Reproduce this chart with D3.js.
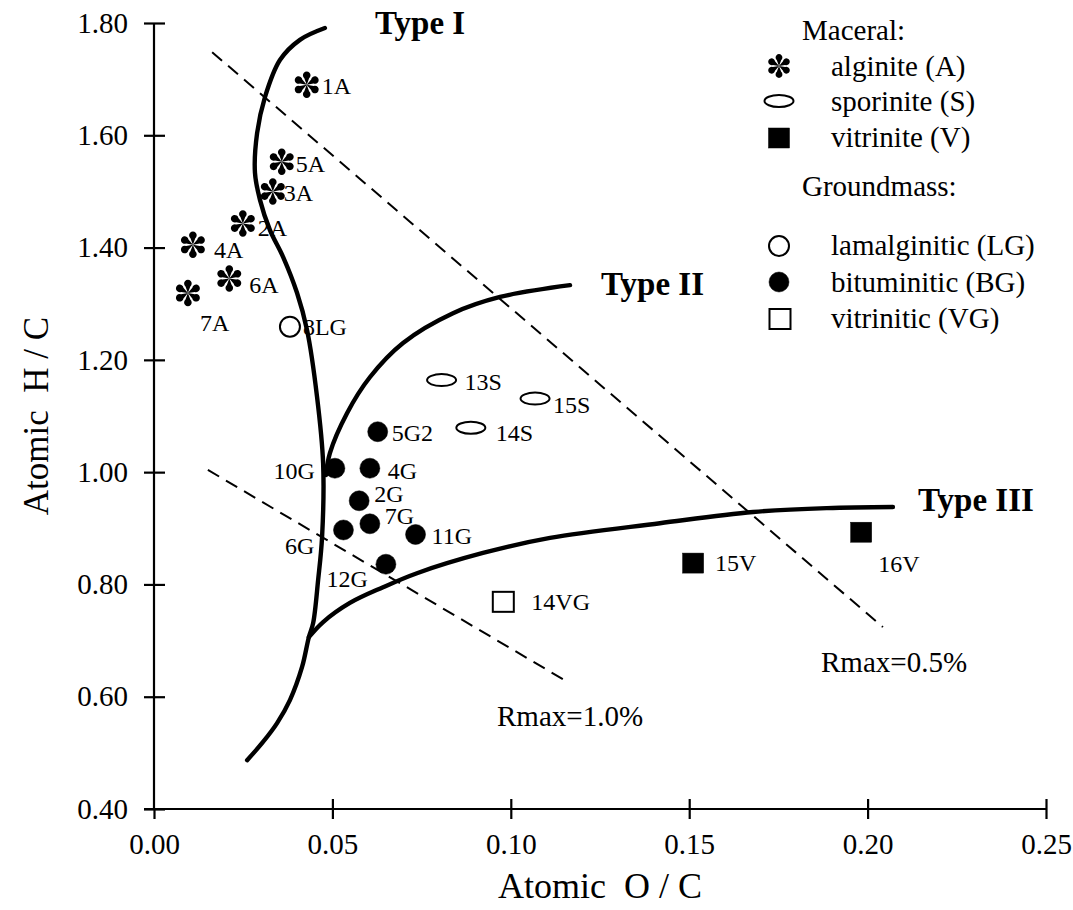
<!DOCTYPE html>
<html>
<head>
<meta charset="utf-8">
<script src="https://cdn.jsdelivr.net/npm/d3@7"></script>
<style>
  body { margin: 0; background: #fff; }
  svg { display: block; }
  text { font-family: "Liberation Serif", "Times New Roman", serif !important; fill: #000; white-space: pre; }
</style>
</head>
<body>
<svg id="chart" width="1073" height="910"></svg>
<script>
// Axis ticks
const xTicks = [0.00, 0.05, 0.10, 0.15, 0.20, 0.25];
const yTicks = [0.40, 0.60, 0.80, 1.00, 1.20, 1.40, 1.60, 1.80];

// Maceral samples (atomic O/C, atomic H/C)
const alginite = [
  { id: "1A", oc: 0.0428, hc: 1.690 },
  { id: "5A", oc: 0.0358, hc: 1.553 },
  { id: "3A", oc: 0.0333, hc: 1.500 },
  { id: "2A", oc: 0.0249, hc: 1.443 },
  { id: "4A", oc: 0.0109, hc: 1.405 },
  { id: "6A", oc: 0.0211, hc: 1.345 },
  { id: "7A", oc: 0.0095, hc: 1.319 }
];
const sporinite = [
  { id: "13S", oc: 0.0806, hc: 1.164 },
  { id: "15S", oc: 0.1068, hc: 1.131 },
  { id: "14S", oc: 0.0888, hc: 1.079 }
];
const vitrinite = [
  { id: "15V", oc: 0.1511, hc: 0.838 },
  { id: "16V", oc: 0.1982, hc: 0.893 }
];

// Groundmass samples
const lamalginitic = [
  { id: "8LG", oc: 0.0381, hc: 1.259 }
];
const bituminitic = [
  { id: "5G2", oc: 0.0627, hc: 1.072 },
  { id: "10G", oc: 0.0507, hc: 1.007 },
  { id: "4G",  oc: 0.0605, hc: 1.007 },
  { id: "2G",  oc: 0.0575, hc: 0.949 },
  { id: "7G",  oc: 0.0605, hc: 0.908 },
  { id: "6G",  oc: 0.0531, hc: 0.897 },
  { id: "11G", oc: 0.0733, hc: 0.889 },
  { id: "12G", oc: 0.0650, hc: 0.836 }
];
const vitrinitic = [
  { id: "14VG", oc: 0.0979, hc: 0.769 }
];

// Kerogen evolution paths [O/C, H/C]
const typeI = [
  [0.0479, 1.791], [0.0409, 1.770], [0.0353, 1.734], [0.0311, 1.668],
  [0.0289, 1.604], [0.0283, 1.533], [0.0297, 1.485], [0.0325, 1.431],
  [0.0362, 1.383], [0.0401, 1.319], [0.0429, 1.253], [0.0457, 1.134],
  [0.0474, 1.016], [0.0471, 0.884], [0.0460, 0.808], [0.0446, 0.731],
  [0.0434, 0.706], [0.0415, 0.653], [0.0381, 0.594], [0.0345, 0.553],
  [0.0305, 0.519], [0.0261, 0.487]
];
const typeII = [
  [0.0482, 0.995], [0.0493, 1.034], [0.0541, 1.105], [0.0605, 1.169],
  [0.0698, 1.230], [0.0838, 1.283], [0.0970, 1.312], [0.1166, 1.333]
];
const typeIII = [
  [0.0434, 0.706], [0.0474, 0.733], [0.0549, 0.767], [0.0642, 0.795],
  [0.0737, 0.820], [0.0922, 0.856], [0.1110, 0.883], [0.1418, 0.909],
  [0.1679, 0.929], [0.1886, 0.936], [0.2071, 0.938]
];

// Iso-reflectance lines
const rmax05 = [[0.0163, 1.748], [0.2043, 0.724]];
const rmax10 = [[0.0151, 1.004], [0.1160, 0.626]];

// ---------------------------------------------------------------
const svg = d3.select("#chart");
const x = d3.scaleLinear().domain([0, 0.25]).range([154, 1046]);
const y = d3.scaleLinear().domain([0.4, 1.8]).range([809, 23]);
const serif = '"Liberation Serif", "Times New Roman", serif';

// Axes
const gy = svg.append("g")
  .attr("transform", `translate(${x(0)},0)`)
  .call(d3.axisLeft(y).tickValues(yTicks).tickFormat(d3.format(".2f")).tickSize(0).tickPadding(26));
const gx = svg.append("g")
  .attr("transform", `translate(0,${y(0.4)})`)
  .call(d3.axisBottom(x).tickValues(xTicks).tickFormat(d3.format(".2f")).tickSize(0).tickPadding(24));
[gx, gy].forEach(g => {
  g.attr("font-family", serif).attr("font-size", 29);
  g.select(".domain").remove();
  g.selectAll(".tick text").style("font-family", serif).style("font-size", "29px");
});
gy.selectAll(".tick").append("line").attr("x1", -10).attr("x2", 11)
  .attr("stroke", "#000").attr("stroke-width", 2.2);
gx.selectAll(".tick").filter(d => d > 0).append("line").attr("y1", -10).attr("y2", 10)
  .attr("stroke", "#000").attr("stroke-width", 2.2);
gx.selectAll(".tick").filter(d => d === 0).append("line").attr("y1", 0).attr("y2", 10)
  .attr("stroke", "#000").attr("stroke-width", 2.2);

svg.append("line").attr("x1", x(0)).attr("x2", x(0)).attr("y1", y(1.8)).attr("y2", y(0.4))
  .attr("stroke", "#000").attr("stroke-width", 2.2);
svg.append("line").attr("x1", x(0) - 10).attr("x2", x(0.25)).attr("y1", y(0.4)).attr("y2", y(0.4))
  .attr("stroke", "#000").attr("stroke-width", 2.2);

// Axis titles
svg.append("text").attr("x", 600).attr("y", 885).attr("dy", "0.35em")
  .attr("text-anchor", "middle").attr("font-size", 36).text("Atomic  O / C");
svg.append("text").attr("transform", `translate(36,${(y(0.4) + y(1.8)) / 2}) rotate(-90)`)
  .attr("dy", "0.35em").attr("text-anchor", "middle").attr("font-size", 35).text("Atomic  H / C");

// Dashed iso-reflectance lines
const straight = d3.line().x(d => x(d[0])).y(d => y(d[1]));
[rmax05, rmax10].forEach(seg => {
  svg.append("path").attr("d", straight(seg)).attr("fill", "none")
    .attr("stroke", "#000").attr("stroke-width", 2).attr("stroke-dasharray", "13,8");
});

// Evolution paths
const smooth = d3.line().x(d => x(d[0])).y(d => y(d[1])).curve(d3.curveCatmullRom.alpha(0.5));
[typeI, typeII, typeIII].forEach(p => {
  svg.append("path").attr("d", smooth(p)).attr("fill", "none")
    .attr("stroke", "#000").attr("stroke-width", 4.4).attr("stroke-linecap", "round");
});

// Marker shapes
const petal = "M0,0 L-2.4,-6.5 A3.8,3.8 0 1,1 2.4,-6.5 Z";
function asterisk(g, cx, cy, s) {
  const a = g.append("g").attr("transform", `translate(${cx},${cy}) scale(${s})`);
  d3.range(6).forEach(i => a.append("path").attr("d", petal)
    .attr("transform", `rotate(${i * 60})`).attr("fill", "#000"));
}
function ellipse(g, cx, cy) {
  g.append("ellipse").attr("cx", cx).attr("cy", cy).attr("rx", 14.5).attr("ry", 6)
    .attr("fill", "#fff").attr("stroke", "#000").attr("stroke-width", 2);
}
function square(g, cx, cy, filled) {
  g.append("rect").attr("x", cx - 10.5).attr("y", cy - 10).attr("width", 21).attr("height", 20)
    .attr("fill", filled ? "#000" : "#fff").attr("stroke", "#000").attr("stroke-width", filled ? 0.5 : 2);
}
function circle(g, cx, cy, filled) {
  g.append("circle").attr("cx", cx).attr("cy", cy).attr("r", 10)
    .attr("fill", filled ? "#000" : "#fff").attr("stroke", "#000").attr("stroke-width", filled ? 0.5 : 2);
}

// Sample label placement: [dx, dy, anchor]
const labelPlace = {
  "1A": [15, 1, "start"], "5A": [14, 2, "start"], "3A": [11, 1, "start"],
  "2A": [15, 4, "start"], "4A": [21, 5, "start"], "6A": [20, 6, "start"],
  "7A": [12, 30, "start"], "8LG": [13, 0, "start"],
  "13S": [23, 2, "start"], "15S": [18, 6, "start"], "14S": [25, 5, "start"],
  "5G2": [14, 1, "start"], "10G": [-20, 2, "end"], "4G": [18, 2, "start"],
  "2G": [15, -7, "start"], "7G": [15, -8, "start"], "6G": [-29, 16, "end"],
  "11G": [16, 1, "start"], "12G": [-18, 14, "end"], "14VG": [28, 0, "start"],
  "15V": [22, 0, "start"], "16V": [17, 31, "start"]
};

const marks = svg.append("g");
const labels = svg.append("g");
function plot(data, draw) {
  data.forEach(d => {
    const cx = x(d.oc), cy = y(d.hc);
    draw(marks, cx, cy);
    const p = labelPlace[d.id];
    labels.append("text").attr("x", cx + p[0]).attr("y", cy + p[1]).attr("dy", "0.35em")
      .attr("text-anchor", p[2]).attr("font-size", 24).text(d.id);
  });
}
plot(alginite, (g, cx, cy) => asterisk(g, cx, cy, 1));
plot(sporinite, (g, cx, cy) => ellipse(g, cx, cy));
plot(vitrinite, (g, cx, cy) => square(g, cx, cy, true));
plot(lamalginitic, (g, cx, cy) => circle(g, cx, cy, false));
plot(bituminitic, (g, cx, cy) => circle(g, cx, cy, true));
plot(vitrinitic, (g, cx, cy) => square(g, cx, cy, false));

// Kerogen type and reflectance annotations
const ann = [
  ["Type I", 375, 22, true], ["Type II", 601, 283, true], ["Type III", 918, 499, true],
  ["Rmax=1.0%", 497, 716, false], ["Rmax=0.5%", 821, 662, false]
];
ann.forEach(a => svg.append("text").attr("x", a[1]).attr("y", a[2]).attr("dy", "0.35em")
  .attr("font-size", a[3] ? 33 : 29).attr("font-weight", a[3] ? "bold" : "normal").text(a[0]));

// Legend
const lg = svg.append("g");
const legendFont = 29;
lg.append("text").attr("x", 802).attr("y", 30).attr("dy", "0.35em").attr("font-size", legendFont).text("Maceral:");
lg.append("text").attr("x", 802).attr("y", 186).attr("dy", "0.35em").attr("font-size", legendFont).text("Groundmass:");
const legendRows = [
  ["alginite (A)", 66, g => asterisk(g, 779, 66, 0.9)],
  ["sporinite (S)", 101, g => ellipse(g, 779, 101)],
  ["vitrinite (V)", 137, g => square(g, 779, 138, true)],
  ["lamalginitic (LG)", 245, g => circle(g, 779, 246, false)],
  ["bituminitic (BG)", 282, g => circle(g, 779, 282, true)],
  ["vitrinitic (VG)", 318, g => square(g, 780, 319, false)]
];
legendRows.forEach(r => {
  r[2](lg);
  lg.append("text").attr("x", 831).attr("y", r[1]).attr("dy", "0.35em").attr("font-size", legendFont).text(r[0]);
});
</script>
</body>
</html>
